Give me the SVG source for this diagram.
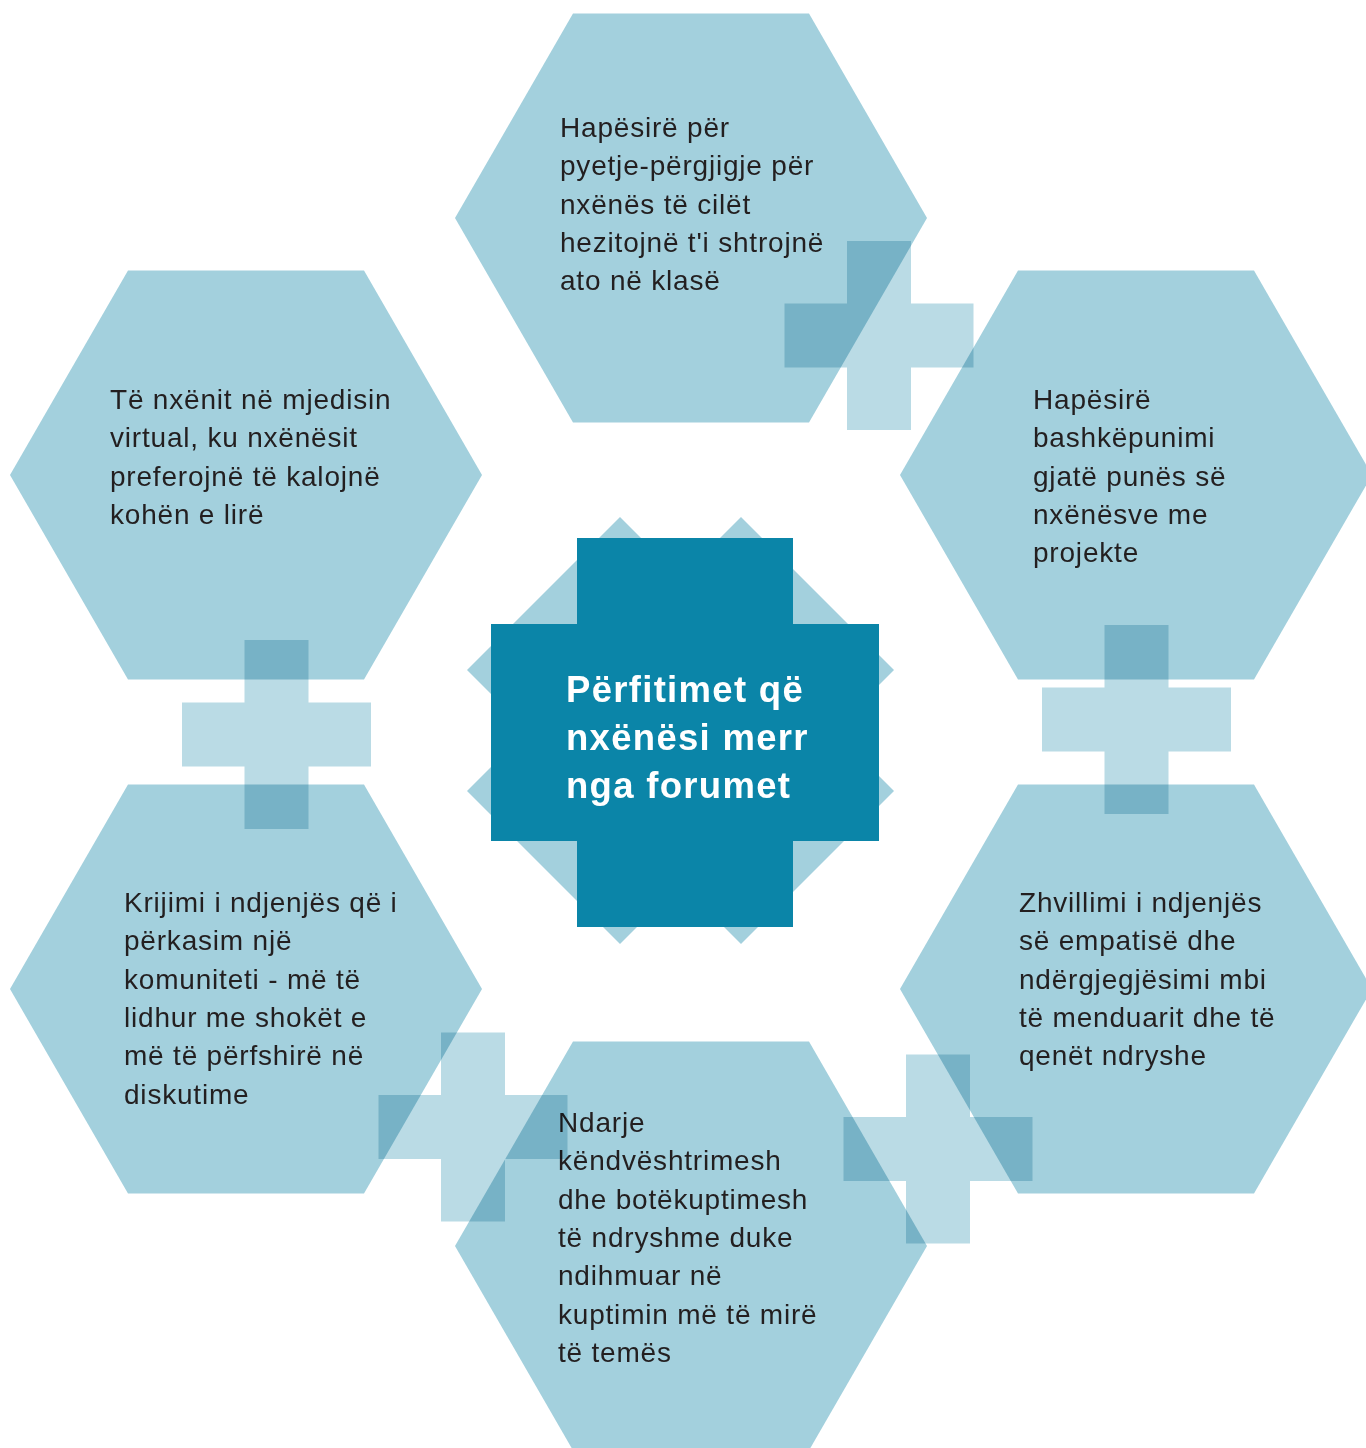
<svg xmlns="http://www.w3.org/2000/svg" xmlns:xlink="http://www.w3.org/1999/xlink" width="1366" height="1448" viewBox="0 0 1366 1448">
<style>
.hex{fill:#A3D0DD}
.plus{fill:#BADBE5;mix-blend-mode:multiply}
.txt{font-family:"Liberation Sans",Arial,sans-serif;font-size:28px;letter-spacing:0.8px;fill:#231F20}
.ctxt{font-family:"Liberation Sans",Arial,sans-serif;font-size:36.5px;font-weight:bold;letter-spacing:1.3px;fill:#FFFFFF}
.diam{fill:#A3D0DD}
.cross{fill:#0B85A8}
</style>
<defs>
<polygon id="hexshape" points="-236,0 -118,-204.4 118,-204.4 236,0 118,204.4 -118,204.4"/>
<path id="plusshape" d="M -32 -94.5 H 32 V -32 H 94.5 V 32 H 32 V 94.5 H -32 V 32 H -94.5 V -32 H -32 Z"/>
</defs>
<rect width="1366" height="1448" fill="#FFFFFF"/>

<g id="node-top">
<use xlink:href="#hexshape" href="#hexshape" class="hex" transform="translate(691,218)"/>
<text class="txt" x="560" y="137"><tspan x="560">Hapësirë për</tspan><tspan x="560" dy="38.3">pyetje-përgjigje për</tspan><tspan x="560" dy="38.3">nxënës të cilët</tspan><tspan x="560" dy="38.3">hezitojnë t'i shtrojnë</tspan><tspan x="560" dy="38.3">ato në klasë</tspan></text>
</g>

<g id="node-upper-left">
<use xlink:href="#hexshape" href="#hexshape" class="hex" transform="translate(246,475)"/>
<text class="txt" x="110" y="409"><tspan x="110">Të nxënit në mjedisin</tspan><tspan x="110" dy="38.3">virtual, ku nxënësit</tspan><tspan x="110" dy="38.3">preferojnë të kalojnë</tspan><tspan x="110" dy="38.3">kohën e lirë</tspan></text>
</g>

<g id="node-upper-right">
<use xlink:href="#hexshape" href="#hexshape" class="hex" transform="translate(1136,475)"/>
<text class="txt" x="1033" y="409"><tspan x="1033">Hapësirë</tspan><tspan x="1033" dy="38.3">bashkëpunimi</tspan><tspan x="1033" dy="38.3">gjatë punës së</tspan><tspan x="1033" dy="38.3">nxënësve me</tspan><tspan x="1033" dy="38.3">projekte</tspan></text>
</g>

<g id="node-lower-left">
<use xlink:href="#hexshape" href="#hexshape" class="hex" transform="translate(246,989)"/>
<text class="txt" x="124" y="912"><tspan x="124">Krijimi i ndjenjës që i</tspan><tspan x="124" dy="38.3">përkasim një</tspan><tspan x="124" dy="38.3">komuniteti - më të</tspan><tspan x="124" dy="38.3">lidhur me shokët e</tspan><tspan x="124" dy="38.3">më të përfshirë në</tspan><tspan x="124" dy="38.3">diskutime</tspan></text>
</g>

<g id="node-lower-right">
<use xlink:href="#hexshape" href="#hexshape" class="hex" transform="translate(1136,989)"/>
<text class="txt" x="1019" y="912"><tspan x="1019">Zhvillimi i ndjenjës</tspan><tspan x="1019" dy="38.3">së empatisë dhe</tspan><tspan x="1019" dy="38.3">ndërgjegjësimi mbi</tspan><tspan x="1019" dy="38.3">të menduarit dhe të</tspan><tspan x="1019" dy="38.3">qenët ndryshe</tspan></text>
</g>

<g id="node-bottom">
<use xlink:href="#hexshape" href="#hexshape" class="hex" transform="translate(691,1246)"/>
<text class="txt" x="558" y="1132"><tspan x="558">Ndarje</tspan><tspan x="558" dy="38.3">këndvështrimesh</tspan><tspan x="558" dy="38.3">dhe botëkuptimesh</tspan><tspan x="558" dy="38.3">të ndryshme duke</tspan><tspan x="558" dy="38.3">ndihmuar në</tspan><tspan x="558" dy="38.3">kuptimin më të mirë</tspan><tspan x="558" dy="38.3">të temës</tspan></text>
</g>

<g id="node-center">
<polygon class="diam" points="620,517 894,791 741,944 467,670"/>
<polygon class="diam" points="741,517 894,670 620,944 467,791"/>
<path class="cross" d="M 577 538 H 793 V 624 H 879 V 841 H 793 V 927 H 577 V 841 H 491 V 624 H 577 Z"/>
<text class="ctxt" x="566" y="702"><tspan x="566">Përfitimet që</tspan><tspan x="566" dy="48">nxënësi merr</tspan><tspan x="566" dy="48">nga forumet</tspan></text>
</g>

<g id="connectors">
<use xlink:href="#plusshape" href="#plusshape" class="plus" transform="translate(879,335.5)"/>
<use xlink:href="#plusshape" href="#plusshape" class="plus" transform="translate(276.5,734.5)"/>
<use xlink:href="#plusshape" href="#plusshape" class="plus" transform="translate(473,1127)"/>
<use xlink:href="#plusshape" href="#plusshape" class="plus" transform="translate(938,1149)"/>
<use xlink:href="#plusshape" href="#plusshape" class="plus" transform="translate(1136.5,719.5)"/>
</g>
</svg>
